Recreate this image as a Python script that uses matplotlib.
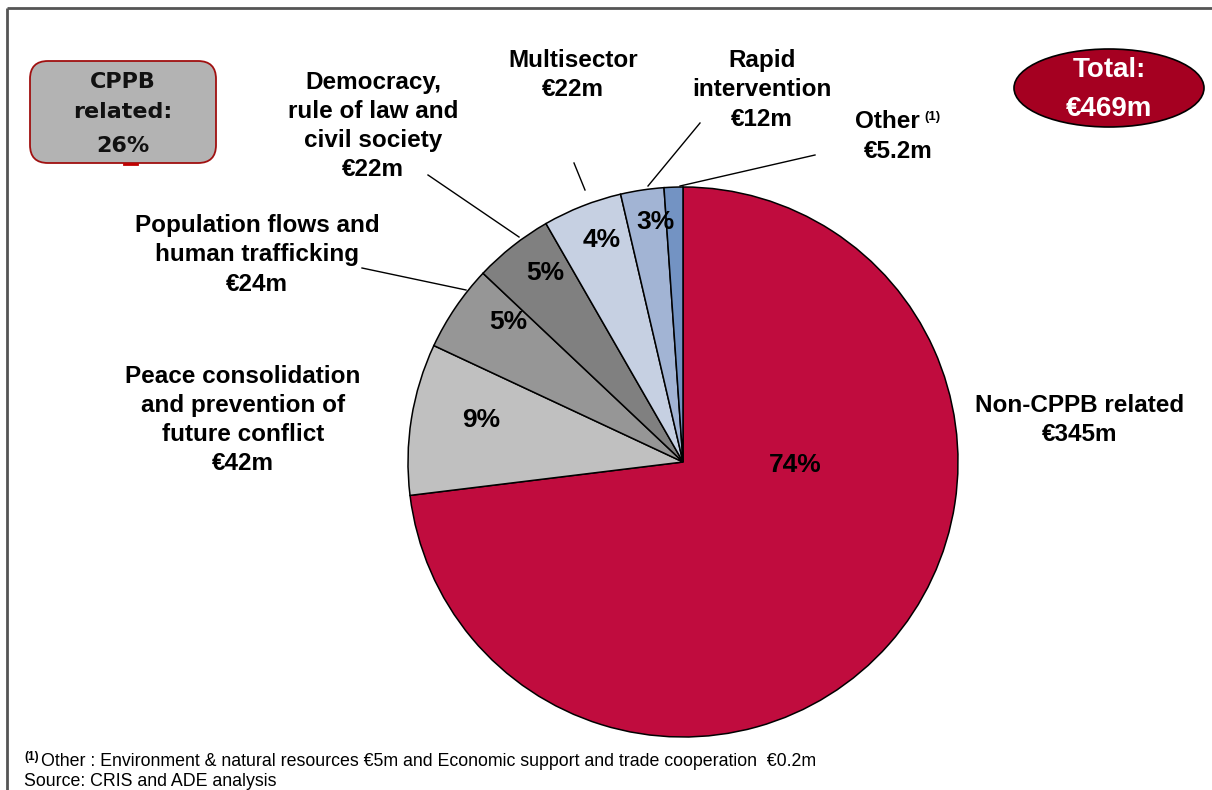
import matplotlib
matplotlib.use("Agg")
import matplotlib.pyplot as plt
from matplotlib.patches import FancyBboxPatch, Ellipse

# funding by sector, in EUR million
sectors = ["Non-CPPB related", "Peace consolidation\nand prevention of\nfuture conflict",
           "Population flows and\nhuman trafficking", "Democracy,\nrule of law and\ncivil society",
           "Multisector", "Rapid\nintervention", "Other"]
amounts = [345, 42, 24, 22, 22, 12, 5.2]
amount_labels = ["€345m", "€42m", "€24m", "€22m", "€22m", "€12m", "€5.2m"]
pct_labels = ["74%", "9%", "5%", "5%", "4%", "3%", ""]
colors = ["#C00C3E", "#C0C0C0", "#969696", "#808080", "#C6D0E2", "#A2B4D4", "#7393C3"]

W, H = 1212, 790
fig = plt.figure(figsize=(W / 100, H / 100), dpi=100)
ax = fig.add_axes([0, 0, 1, 1])

font = "Liberation Sans"

def Y(y):  # flip from top-down coordinates
    return H - y

cx, cy, r = 683, Y(462), 275
wedges, _ = ax.pie(amounts, colors=colors, startangle=90, counterclock=False,
                   center=(cx, cy), radius=r, frame=True,
                   wedgeprops=dict(edgecolor="black", linewidth=1.1))
ax.set_xlim(0, W)
ax.set_ylim(0, H)
ax.set_aspect("equal")
ax.axis("off")

# percentages inside the slices
pct_pos = [(795, 465), (481, 420), (508, 322), (545, 273), (602, 240), (655, 222)]
for (x, y), t in zip(pct_pos, pct_labels):
    ax.text(x, Y(y), t, fontsize=19, fontweight="bold", family=font,
            ha="center", va="center")

# sector names with amounts (Other is written separately below)
name_pos = [(1080, 420), (243, 420), (257, 255), (373, 126), (573, 75), (762, 90)]
for (x, y), name, amt in zip(name_pos, sectors, amount_labels):
    ax.text(x, Y(y), name + "\n" + amt, fontsize=17.5, fontweight="bold", family=font,
            ha="center", va="center", linespacing=1.35)
ax.text(920, Y(122), sectors[6], fontsize=17.5, fontweight="bold", family=font,
        ha="right", va="center")
ax.text(924, Y(117), "(1)", fontsize=9.5, fontweight="bold", family=font,
        ha="left", va="center")
ax.text(898, Y(152), amount_labels[6], fontsize=17.5, fontweight="bold", family=font,
        ha="center", va="center")

# leader lines
leaders = [((362, 268), (466, 290)), ((428, 175), (519, 237)), ((574, 163), (585, 190)),
           ((700, 123), (648, 186)), ((815, 155), (680, 186))]
for (x0, y0), (x1, y1) in leaders:
    ax.plot([x0, x1], [Y(y0), Y(y1)], color="black", lw=1)

# CPPB box
box = FancyBboxPatch((30, Y(163)), 186, 102, boxstyle="round,pad=0,rounding_size=18",
                     facecolor="#B3B3B3", edgecolor="#A01010", linewidth=1.3)
ax.add_patch(box)
ax.plot([124, 137], [Y(164), Y(164)], color="#C00000", lw=2)
for t, y in [("CPPB", 82), ("related:", 112), ("26%", 146)]:
    ax.text(123, Y(y), t, fontsize=16, fontweight="bold", family="DejaVu Sans",
            ha="center", va="center", color="#111111")

# total ellipse
ax.add_patch(Ellipse((1109, Y(88)), 190, 78, facecolor="#A50021", edgecolor="black", lw=1.2))
ax.text(1109, Y(70), "Total:", fontsize=20, fontweight="bold", family=font,
        color="white", ha="center", va="center")
ax.text(1109, Y(109), "€469m", fontsize=20, fontweight="bold", family=font,
        color="white", ha="center", va="center")

# footnote
ax.text(24, Y(757), "(1)", fontsize=8.5, fontweight="bold", family=font, ha="left", va="center")
ax.text(41, Y(761), "Other : Environment & natural resources €5m and Economic support and trade cooperation  €0.2m",
        fontsize=12.8, family=font, ha="left", va="center")
ax.text(24, Y(782), "Source: CRIS and ADE analysis", fontsize=12.8, family=font,
        ha="left", va="center")

# frame lines
ax.plot([7, 7], [0, Y(8)], color="#555555", lw=2, solid_capstyle="butt")
ax.plot([7, W], [Y(8), Y(8)], color="#555555", lw=2, solid_capstyle="butt")

fig.savefig("out.png", dpi=100)
